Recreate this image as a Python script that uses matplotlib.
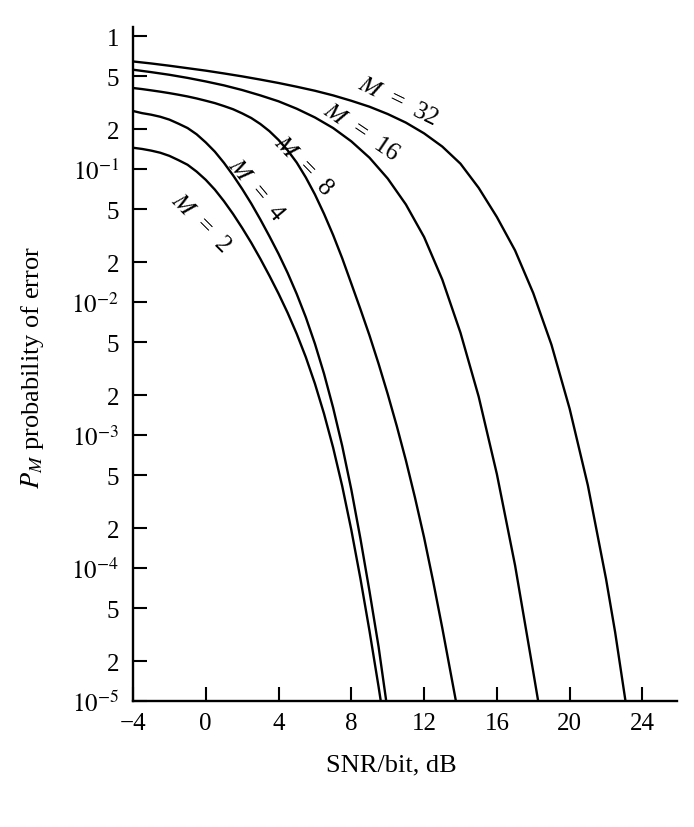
import matplotlib.pyplot as plt
from matplotlib.ticker import FixedLocator, FixedFormatter, NullLocator

plt.rcParams['font.family'] = ['Liberation Serif', 'DejaVu Serif']
plt.rcParams['mathtext.fontset'] = 'stix'

# values (SNR/bit in dB, symbol error probability)
snr_m2 = [-4, -3.5, -3, -2.5, -2, -1.5, -1, -0.5, 0, 0.5, 1, 1.5, 2, 2.5, 3,
          3.5, 4, 4.5, 5, 5.5, 6, 6.5, 7, 7.5, 8, 8.5, 9, 9.5, 9.62]
pe_m2 = [0.145, 0.142, 0.138, 0.133, 0.126, 0.117, 0.108, 0.0959, 0.0832,
         0.0702, 0.0575, 0.0461, 0.0362, 0.0280, 0.0212, 0.0158, 0.0116,
         0.00832, 0.00578, 0.00386, 0.00244, 0.00145, 8.07e-4, 4.14e-4,
         1.94e-4, 8.36e-5, 3.37e-5, 1.28e-5, 1.0e-5]

snr_m4 = [-4, -3.5, -3, -2.5, -2, -1.5, -1, -0.5, 0, 0.5, 1, 1.5, 2, 2.5, 3,
          3.5, 4, 4.5, 5, 5.5, 6, 6.5, 7, 7.5, 8, 8.5, 9, 9.5, 9.92]
pe_m4 = [0.274, 0.264, 0.257, 0.248, 0.236, 0.220, 0.204, 0.183, 0.159,
         0.1355, 0.1117, 0.090, 0.0711, 0.0552, 0.0419, 0.0313, 0.0231,
         0.0166, 0.01153, 0.0077, 0.00487, 0.0029, 1.61e-3, 8.3e-4,
         3.9e-4, 1.67e-4, 6.7e-5, 2.56e-5, 1.0e-5]

snr_m8 = [-4, -3.5, -3, -2.5, -2, -1.5, -1, -0.5, 0, 0.5, 1, 1.5, 2, 2.5, 3,
          3.5, 4, 4.5, 5, 5.5, 6, 6.5, 7, 7.5, 8, 8.5, 9, 9.5, 10, 10.5, 11,
          11.5, 12, 12.5, 13, 13.75]
pe_m8 = [0.408, 0.4004, 0.3917, 0.3828, 0.3733, 0.3631, 0.3524, 0.3404,
         0.3273, 0.3141, 0.2985, 0.2825, 0.2630, 0.2427, 0.2188, 0.1932,
         0.1660, 0.1387, 0.1122, 0.0867, 0.0646, 0.0462, 0.0320, 0.0214,
         0.0138, 0.00887, 0.00562, 0.00344, 0.00204, 0.00117, 6.46e-4,
         3.39e-4, 1.70e-4, 7.94e-5, 3.55e-5, 1.0e-5]

snr_m16 = [-4, -3, -2, -1, 0, 1, 2, 3, 4, 5, 6, 7, 8, 9, 10, 11, 12, 13, 14,
           15, 16, 17, 18, 18.27]
pe_m16 = [0.560, 0.537, 0.513, 0.486, 0.457, 0.427, 0.394, 0.359, 0.324,
          0.285, 0.245, 0.204, 0.162, 0.122, 0.0851, 0.0543, 0.0309,
          0.0148, 0.00589, 0.00195, 5.1e-4, 1.05e-4, 1.66e-5, 1.0e-5]

snr_m32 = [-4, -3, -2, -1, 0, 1, 2, 3, 4, 5, 6, 7, 8, 9, 10, 11, 12, 13, 14,
           15, 16, 17, 18, 19, 20, 21, 22, 22.5, 23.07]
pe_m32 = [0.646, 0.624, 0.600, 0.575, 0.551, 0.525, 0.499, 0.472, 0.445,
          0.417, 0.389, 0.359, 0.327, 0.295, 0.260, 0.224, 0.186, 0.148,
          0.110, 0.0724, 0.0437, 0.0245, 0.0117, 0.00479, 0.00158, 4.2e-4,
          8.3e-5, 3.3e-5, 1.0e-5]

curve_labels = ['$M$  =  2', '$M$  =  4', '$M$  =  8', '$M$  =  16', '$M$  =  32']

x_ticks = [-4, 0, 4, 8, 12, 16, 20, 24]
y_ticks = [1, 0.5, 0.2, 1e-1, 5e-2, 2e-2, 1e-2, 5e-3, 2e-3, 1e-3,
           5e-4, 2e-4, 1e-4, 5e-5, 2e-5, 1e-5]
y_tick_labels = ['1', '5', '2', r'$10^{-1}$', '5', '2', r'$10^{-2}$', '5', '2',
                 r'$10^{-3}$', '5', '2', r'$10^{-4}$', '5', '2', r'$10^{-5}$']

fig = plt.figure(figsize=(6.94, 8.28), dpi=100)
ax = fig.add_axes([0.1916, 0.152, 0.7839, 0.814])

for s, p in [(snr_m2, pe_m2), (snr_m4, pe_m4), (snr_m8, pe_m8),
             (snr_m16, pe_m16), (snr_m32, pe_m32)]:
    ax.plot(s, p, color='black', lw=1.7)

ax.set_yscale('log')
ax.set_xlim(-4, 25.9)
ax.set_ylim(1e-5, 1.17)

ax.xaxis.set_major_locator(FixedLocator(x_ticks))
ax.set_xticklabels([str(t).replace('-', '\u2212') for t in x_ticks])
ax.yaxis.set_major_locator(FixedLocator(y_ticks))
ax.yaxis.set_major_formatter(FixedFormatter(y_tick_labels))
ax.yaxis.set_minor_locator(NullLocator())

for side in ['top', 'right']:
    ax.spines[side].set_visible(False)
for side in ['left', 'bottom']:
    ax.spines[side].set_linewidth(1.7)

ax.tick_params(axis='both', direction='in', length=10, width=1.5,
               labelsize=18)
ax.tick_params(axis='x', pad=8)
ax.tick_params(axis='y', pad=10)

# curve labels (position, rotation)
label_pos = [(-0.27, 0.040, -45), (2.74, 0.071, -50), (5.37, 0.107, -46),
             (8.55, 0.191, -34), (10.58, 0.33, -26)]
for txt, (x, y, r) in zip(curve_labels, label_pos):
    ax.text(x, y, txt, fontsize=18, rotation=r, ha='center', va='center',
            rotation_mode='anchor')

ax.set_xlabel('SNR/bit, dB', fontsize=19)
ax.xaxis.set_label_coords(0.474, -0.078)
ax.set_ylabel('$P_M$ probability of error', fontsize=19)
ax.yaxis.set_label_coords(-0.16, 0.497)

fig.savefig('out.png', dpi=100)
